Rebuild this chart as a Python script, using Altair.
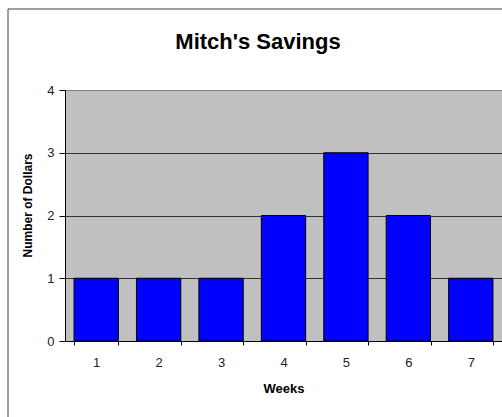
import altair as alt
import pandas as pd

weeks = ["1", "2", "3", "4", "5", "6", "7"]
dollars = [1, 1, 1, 2, 3, 2, 1]
y_ticks = [0, 1, 2, 3, 4]
title_text = "Mitch's Savings"

df = pd.DataFrame({"Week": weeks, "Dollars": dollars})
FONT = "Liberation Sans"

bars = alt.Chart(df).mark_bar(color="#0000FF", stroke="#000000", strokeWidth=1).encode(
    x=alt.X(
        "Week:O", sort=weeks, title="Weeks",
        scale=alt.Scale(paddingInner=0.29, paddingOuter=0.145),
        axis=alt.Axis(
            labelAngle=0, tickBand="extent", tickSize=4, labelPadding=11,
            titlePadding=13, labelFont=FONT, labelFontSize=13, labelColor="#222222",
            titleFont=FONT, titleFontSize=13, titleFontWeight="bold", titleColor="#000000",
            domainColor="#000000", tickColor="#000000",
        ),
    ),
    y=alt.Y(
        "Dollars:Q", title="Number of Dollars",
        scale=alt.Scale(domain=[0, 4], nice=False),
        axis=alt.Axis(
            values=y_ticks, grid=True,
            gridColor={"condition": {"test": "datum.value >= 4", "value": "#808080"}, "value": "#333333"},
            tickSize=6, labelPadding=5, titlePadding=12, titleY=115,
            labelFont=FONT, labelFontSize=13, labelColor="#222222",
            titleFont=FONT, titleFontSize=12, titleFontWeight="bold", titleColor="#000000",
            domainColor="#000000", tickColor="#000000",
        ),
    ),
)

one = pd.DataFrame({"t": [title_text]})

frame = alt.Chart(one).mark_rule(color="#404040", strokeWidth=1).encode(
    x=alt.value(-57), y=alt.value(-81), y2=alt.value(340)
)
frame_top = alt.Chart(one).mark_rule(color="#404040", strokeWidth=1).encode(
    x=alt.value(-57), x2=alt.value(450), y=alt.value(-81)
)
title = alt.Chart(one).mark_text(
    font=FONT, fontSize=22, fontWeight="bold", color="#000000",
    align="center", baseline="alphabetic",
).encode(x=alt.value(193), y=alt.value(-41.5), text="t:N")

chart = alt.layer(bars, frame, frame_top, title).properties(
    width=437, height=251,
    autosize=alt.AutoSizeParams(type="none"),
    padding={"left": 65, "top": 90, "right": 0, "bottom": 76},
).configure(background="#FFFFFF").configure_view(fill="#C0C0C0", stroke="#808080")

chart.save("out.html", embed_options={"renderer": "svg", "actions": False})
